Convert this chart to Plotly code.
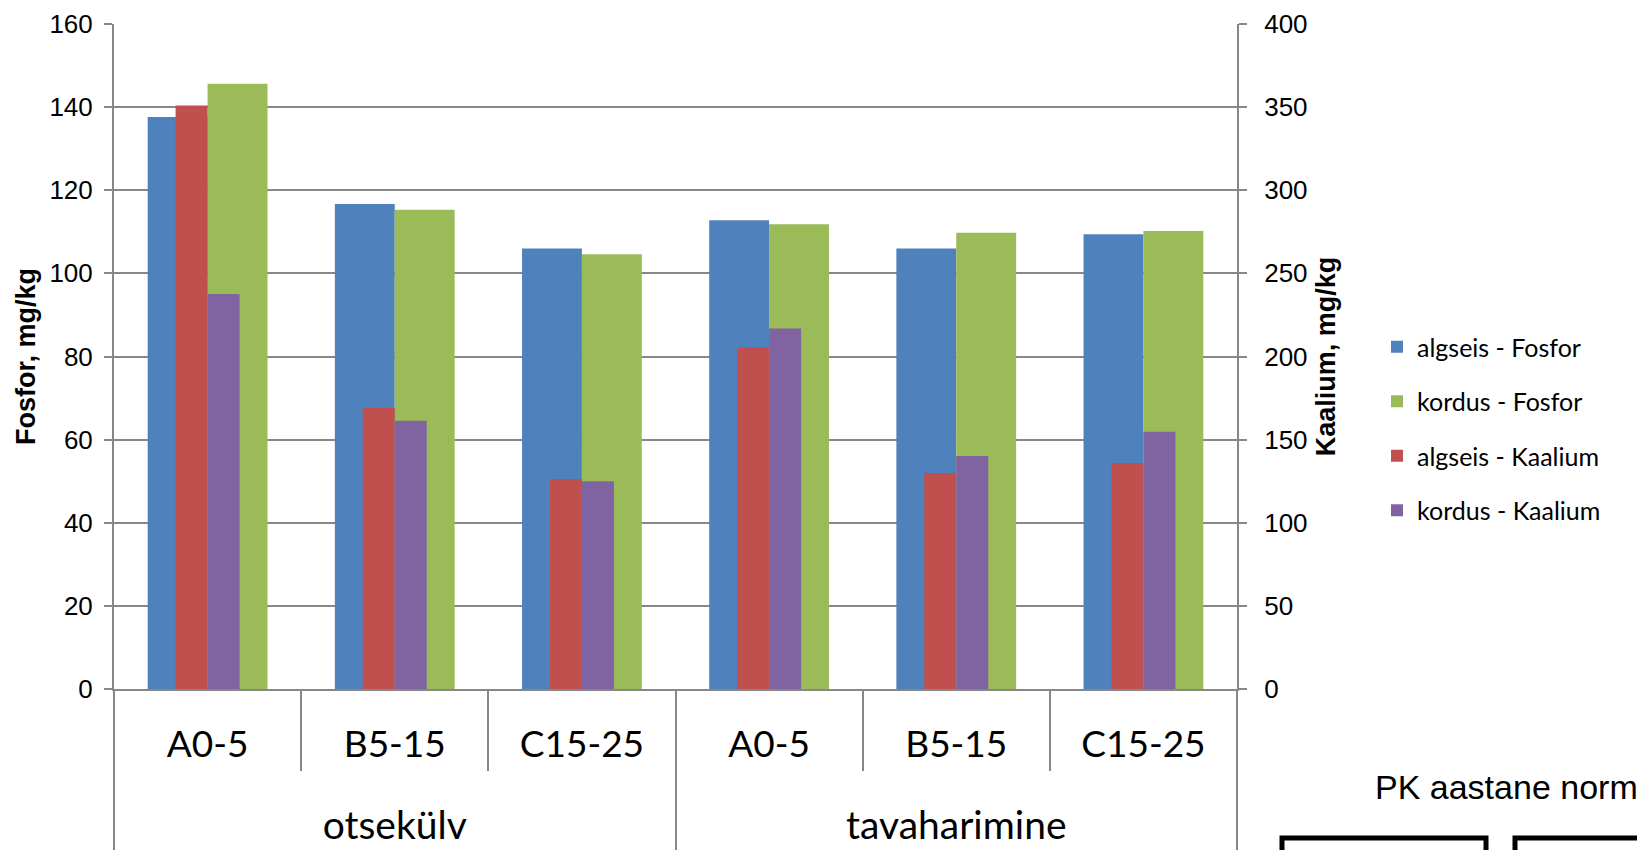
import plotly.graph_objects as go

# Soil sampling: management system (group) x depth layer (sub-category)
systems = ["otsekülv", "otsekülv", "otsekülv", "tavaharimine", "tavaharimine", "tavaharimine"]
depths = ["A0-5", "B5-15", "C15-25", "A0-5", "B5-15", "C15-25"]

# Phosphorus, mg/kg (left axis)
fosfor_algseis = [137.6, 116.7, 106.0, 112.8, 106.0, 109.4]
fosfor_kordus = [145.6, 115.3, 104.6, 111.8, 109.8, 110.2]

# Potassium, mg/kg (right axis)
kaalium_algseis = [351.0, 169.0, 126.3, 205.4, 130.0, 136.0]
kaalium_kordus = [237.6, 161.4, 124.9, 216.8, 140.2, 154.7]

P_TICKS = list(range(0, 161, 20))
K_TICKS = list(range(0, 401, 50))

BLUE, GREEN, RED, PURPLE = "#4F81BD", "#9BBB59", "#C0504D", "#8064A2"
GRID = "#878787"
W, H = 1637, 850
L, R, T, B = 114, 400, 24, 161

# one category per (system, depth) pair; idx is the running category index
keys = [f"{s} {d}" for s, d in zip(systems, depths)]
n = len(keys)
idx = list(range(n))
x_range = [-0.5, n - 0.5]

# group label positions and group boundaries, derived from the system column
group_names, members = [], []
for i, s in enumerate(systems):
    if not group_names or group_names[-1] != s:
        group_names.append(s)
        members.append([])
    members[-1].append(i)
group_centres = [sum(g) / len(g) for g in members]
group_bounds = [-0.5] + [i - 0.5 for i in range(1, n) if systems[i] != systems[i - 1]] + [n - 0.5]

P_W = 0.32   # wide phosphorus bars
K_W = 0.171  # narrow potassium bars

fig = go.Figure()
fig.add_trace(go.Bar(name="algseis - Fosfor", x=keys, y=fosfor_algseis,
                     marker=dict(color=BLUE, line=dict(width=0)),
                     width=P_W, offset=-P_W, xaxis="x", yaxis="y", legendgroup="a"))
fig.add_trace(go.Bar(name="kordus - Fosfor", x=idx, y=fosfor_kordus,
                     marker=dict(color=GREEN, line=dict(width=0)),
                     width=P_W, offset=0, xaxis="x2", yaxis="y", legendgroup="b"))
fig.add_trace(go.Bar(name="algseis - Kaalium", x=keys, y=kaalium_algseis,
                     marker=dict(color=RED, line=dict(width=0)),
                     width=K_W, offset=-K_W, xaxis="x3", yaxis="y2", legendgroup="c"))
fig.add_trace(go.Bar(name="kordus - Kaalium", x=idx, y=kaalium_kordus,
                     marker=dict(color=PURPLE, line=dict(width=0)),
                     width=K_W, offset=0, xaxis="x4", yaxis="y2", legendgroup="d"))

num_font = dict(family="Liberation Sans, Arial, sans-serif", size=26, color="#000000")
cat_font = dict(family="Lato, Open Sans, sans-serif", size=37, color="#000000")
grp_font = dict(family="Lato, Open Sans, sans-serif", size=39, color="#000000")
title_font = dict(family="Liberation Sans, Arial, sans-serif", size=27, color="#000000")

def px_x(px):
    return (px - L) / (W - L - R)

def px_y(py):
    return (H - B - py) / (H - T - B)

common_x = dict(range=x_range, showgrid=False, zeroline=False, automargin=False)

fig.update_layout(
    width=W, height=H,
    margin=dict(l=L, r=R, t=T, b=B, pad=0, autoexpand=False),
    paper_bgcolor="#FFFFFF", plot_bgcolor="#FFFFFF",
    barmode="overlay",
    showlegend=True,
    legend=dict(x=px_x(1377), y=px_y(324), xanchor="left", yanchor="top",
                font=dict(family="Lato, Open Sans, sans-serif", size=25, color="#000000"),
                tracegroupgap=19, itemwidth=30, bgcolor="rgba(0,0,0,0)"),
    # depth labels and the category axis line
    xaxis=dict(
        type="category", categoryorder="array", categoryarray=keys, **common_x,
        showline=True, linecolor=GRID, linewidth=2,
        ticks="", tickmode="array", tickvals=keys, ticktext=depths,
        tickfont=cat_font, ticklabelstandoff=22,
    ),
    # system (group) labels
    xaxis2=dict(
        type="linear", overlaying="x", anchor="y", side="bottom", **common_x,
        showline=False, ticks="", tickmode="array",
        tickvals=group_centres, ticktext=group_names,
        tickfont=grp_font, ticklabelstandoff=110,
    ),
    # short separators between depth layers
    xaxis3=dict(
        type="category", categoryorder="array", categoryarray=keys,
        overlaying="x", anchor="y", side="bottom", **common_x,
        showline=False, ticks="outside", tickson="boundaries",
        ticklen=81, tickwidth=2, tickcolor=GRID, showticklabels=False,
    ),
    # long separators between systems
    xaxis4=dict(
        type="linear", overlaying="x", anchor="y", side="bottom", **common_x,
        showline=False, ticks="outside", ticklen=165, tickwidth=2, tickcolor=GRID,
        tickmode="array", tickvals=group_bounds, showticklabels=False,
    ),
    yaxis=dict(
        range=[0, 160], tickvals=P_TICKS, showgrid=True, gridcolor=GRID, gridwidth=2,
        zeroline=False, showline=True, linecolor=GRID, linewidth=2, automargin=False,
        ticks="outside", ticklen=8, tickwidth=2, tickcolor=GRID,
        tickfont=num_font, ticklabelstandoff=6,
        title=dict(text="<b>Fosfor, mg/kg</b>", standoff=6, font=title_font),
    ),
    yaxis2=dict(
        range=[0, 400], tickvals=K_TICKS, overlaying="y", side="right",
        showgrid=False, zeroline=False, showline=True, linecolor=GRID, linewidth=2,
        automargin=False,
        ticks="outside", ticklen=8, tickwidth=2, tickcolor=GRID,
        tickfont=num_font, ticklabelstandoff=12,
        title=dict(text="<b>Kaalium, mg/kg</b>", standoff=10, font=title_font),
    ),
)

# Heading and frames of the neighbouring panel on the page
fig.add_annotation(text="PK aastane norm", xref="paper", yref="paper",
                   x=px_x(1373), y=px_y(787), xanchor="left", yanchor="middle",
                   showarrow=False,
                   font=dict(family="Liberation Sans, Arial, sans-serif", size=34, color="#000000"))
fig.add_shape(type="rect", xref="paper", yref="paper",
              x0=px_x(1282), x1=px_x(1486), y0=px_y(870), y1=px_y(838),
              line=dict(color="#000000", width=5), fillcolor="rgba(0,0,0,0)")
fig.add_shape(type="rect", xref="paper", yref="paper",
              x0=px_x(1515), x1=px_x(1720), y0=px_y(870), y1=px_y(838),
              line=dict(color="#000000", width=5), fillcolor="rgba(0,0,0,0)")

fig.write_html("out.html")
